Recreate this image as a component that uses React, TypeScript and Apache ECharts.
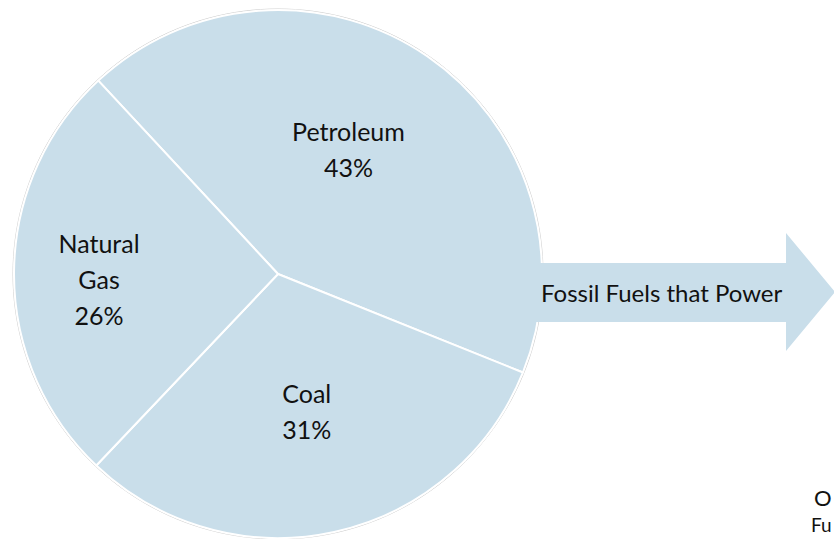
import React, { useEffect, useRef } from "react";
import * as echarts from "echarts";

const categories: string[] = ["Petroleum", "Coal", "Natural Gas"];
const shares: number[] = [43, 31, 26];
const arrowLabel = "Fossil Fuels that Power";
const cornerLines: string[] = ["O", "Fu"];

const FILL = "#C9DEEA";
const FONT = "Lato, 'Open Sans', sans-serif";

export default function App() {
  const ref = useRef<HTMLDivElement>(null);
  useEffect(() => {
    if (!ref.current) return;
    const chart = echarts.init(ref.current, undefined, { renderer: "svg" });
    const cx = 278, cy = 274, R = 264;
    const shifts: Record<number, [number, number]> = {
      0: [-6, -14],
      1: [0, 5],
      2: [-44, 6],
    };
    chart.setOption({
      animation: false,
      series: [
        {
          type: "pie",
          center: [cx, cy],
          radius: [0, R],
          startAngle: 132.9,
          clockwise: true,
          silent: true,
          z: 2,
          itemStyle: { color: FILL, borderColor: "#ffffff", borderWidth: 2 },
          label: {
            show: true,
            position: "inside",
            color: "#111111",
            fontFamily: FONT,
            fontSize: 25,
            lineHeight: 36,
            align: "center",
            formatter: (p: any) => `${String(p.name).replace(" ", "\n")}\n${Math.round(p.percent)}%`,
          },
          labelLine: { show: false },
          labelLayout: (p: any) => {
            const s = shifts[p.dataIndex] || [0, 0];
            return { dx: s[0], dy: s[1] };
          },
          data: categories.map((c, i) => ({ name: c, value: shares[i] })),
        },
      ],
      graphic: [
        {
          type: "circle",
          shape: { cx, cy, r: R + 1 },
          style: { fill: "none", stroke: "#c4c4c4", lineWidth: 0.8 },
          z: 1,
          silent: true,
        },
        {
          type: "polygon",
          shape: {
            points: [
              [532, 263], [786, 263], [786, 233], [835, 292], [786, 351], [786, 322], [532, 322],
            ],
          },
          style: { fill: FILL },
          z: 10,
          silent: true,
        },
        {
          type: "text",
          x: 541,
          y: 292,
          z: 11,
          style: {
            text: arrowLabel,
            fill: "#111111",
            font: `24px ${FONT}`,
            verticalAlign: "middle",
            align: "left",
          },
        },
        {
          type: "text",
          x: 814,
          y: 497,
          z: 11,
          style: {
            text: cornerLines[0],
            fill: "#111111",
            font: `22px ${FONT}`,
            verticalAlign: "middle",
            align: "left",
          },
        },
        {
          type: "text",
          x: 811,
          y: 524,
          z: 11,
          style: {
            text: cornerLines[1],
            fill: "#111111",
            font: `19px ${FONT}`,
            verticalAlign: "middle",
            align: "left",
          },
        },
      ],
    });
    return () => chart.dispose();
  }, []);
  return (
    <div
      ref={ref}
      style={{ position: "fixed", left: 0, top: 0, width: 834, height: 539, background: "#ffffff" }}
    />
  );
}
